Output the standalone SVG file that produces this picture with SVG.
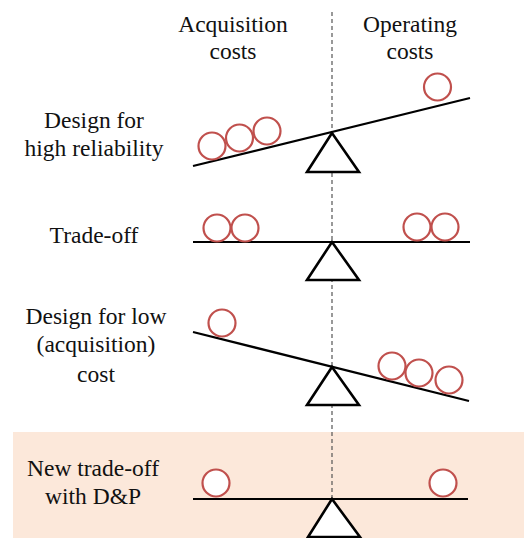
<svg xmlns="http://www.w3.org/2000/svg" width="524" height="538" viewBox="0 0 524 538">
  <style>
    .lbl { font-family: "Liberation Serif", "Times New Roman", serif; font-size: 23.5px; fill: #111; text-anchor: middle; }
    .beam { stroke: #000; stroke-width: 2.2; fill: none; }
    .pivot { stroke: #000; stroke-width: 2.6; fill: #fff; stroke-linejoin: miter; }
    .weight { stroke: #c0504d; stroke-width: 2.2; fill: #fff; }
    .axis { stroke: #555; stroke-width: 1.2; stroke-dasharray: 4 3; }
  </style>

  <!-- highlighted bottom row -->
  <rect x="13" y="432" width="511" height="106" fill="#fce8da"/>

  <!-- column headers -->
  <g id="header-acquisition">
    <text class="lbl" x="233" y="32">Acquisition</text>
    <text class="lbl" x="233" y="59">costs</text>
  </g>
  <g id="header-operating">
    <text class="lbl" x="410" y="32">Operating</text>
    <text class="lbl" x="410" y="59">costs</text>
  </g>

  <!-- centre axis -->
  <g id="connectors">
    <line class="axis" x1="332" y1="12" x2="332" y2="538"/>
  </g>

  <!-- Row 1: design for high reliability -->
  <g id="high-reliability">
    <text class="lbl" x="94" y="128">Design for</text>
    <text class="lbl" x="94" y="156">high reliability</text>
    <line class="beam" x1="193" y1="166" x2="470" y2="98"/>
    <polygon class="pivot" points="332,133 307,172 359,172"/>
    <circle class="weight" cx="212" cy="146" r="13.5"/>
    <circle class="weight" cx="239.5" cy="138" r="13.5"/>
    <circle class="weight" cx="267" cy="131" r="13.5"/>
    <circle class="weight" cx="437.5" cy="87" r="13.5"/>
  </g>

  <!-- Row 2: trade-off -->
  <g id="trade-off">
    <text class="lbl" x="94" y="243">Trade-off</text>
    <line class="beam" x1="193" y1="242" x2="470" y2="242"/>
    <polygon class="pivot" points="332,242 307,280 359,280"/>
    <circle class="weight" cx="217" cy="228" r="13.5"/>
    <circle class="weight" cx="245" cy="228" r="13.5"/>
    <circle class="weight" cx="417" cy="227" r="13.5"/>
    <circle class="weight" cx="445" cy="227" r="13.5"/>
  </g>

  <!-- Row 3: design for low acquisition cost -->
  <g id="low-cost">
    <text class="lbl" x="96" y="324">Design for low</text>
    <text class="lbl" x="96" y="352">(acquisition)</text>
    <text class="lbl" x="96" y="382">cost</text>
    <line class="beam" x1="193" y1="332" x2="469" y2="401"/>
    <polygon class="pivot" points="332,367 307,405 359,405"/>
    <circle class="weight" cx="222" cy="323" r="13.5"/>
    <circle class="weight" cx="392" cy="366" r="13.5"/>
    <circle class="weight" cx="419" cy="373" r="13.5"/>
    <circle class="weight" cx="449" cy="380" r="13.5"/>
  </g>

  <!-- Row 4: new trade-off with D&P -->
  <g id="new-trade-off">
    <text class="lbl" x="93" y="476">New trade-off</text>
    <text class="lbl" x="93" y="504">with D&amp;P</text>
    <line class="beam" x1="193" y1="499" x2="468" y2="499"/>
    <polygon class="pivot" points="332,499 308,537 360,537"/>
    <circle class="weight" cx="216" cy="483" r="13.5"/>
    <circle class="weight" cx="443" cy="483" r="13.5"/>
  </g>
</svg>
